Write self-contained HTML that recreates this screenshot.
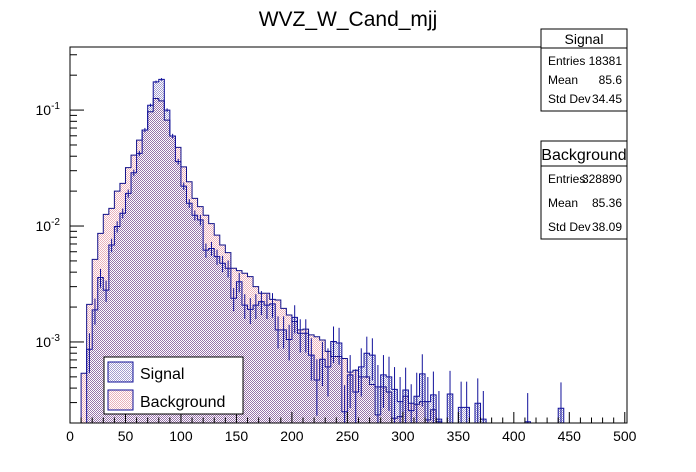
<!DOCTYPE html>
<html><head><meta charset="utf-8"><style>
body{margin:0;background:#fff;}
svg{display:block;font-family:"Liberation Sans",Arial,sans-serif;}
</style></head><body>
<svg id="c" width="696" height="472" viewBox="0 0 696 472">
<defs>
<pattern id="pbg" width="2" height="2" patternUnits="userSpaceOnUse"><rect width="2" height="2" fill="#ffffff"/><rect x="0" y="0" width="1" height="1" fill="rgba(215,110,130,0.55)"/><rect x="1" y="1" width="1" height="1" fill="rgba(215,110,130,0.55)"/></pattern>
<pattern id="psig" width="2" height="2" patternUnits="userSpaceOnUse"><rect x="0" y="0" width="1" height="1" fill="rgba(50,40,150,0.45)"/><rect x="1" y="1" width="1" height="1" fill="rgba(50,40,150,0.45)"/></pattern>
</defs>
<rect width="696" height="472" fill="#fff"/>
<text x="348" y="26" text-anchor="middle" font-size="21">WVZ_W_Cand_mjj</text>
<g id="plot"></g>
</svg>
<script>
const bgVals=[0,0,5.37e-4,2.11e-3,5.16e-3,8.65e-3,1.26e-2,1.42e-2,2.0e-2,2.33e-2,3.19e-2,4.09e-2,5.51e-2,6.73e-2,0.0968,0.126,0.120,0.082,0.0597,0.0477,0.0324,0.0241,0.0173,0.0147,0.0124,0.0105,8.35e-3,6.86e-3,5.89e-3,4.32e-3,4.12e-3,3.91e-3,3.66e-3,3.0e-3,2.63e-3,2.63e-3,2.33e-3,2.30e-3,1.95e-3,1.71e-3,1.5e-3,1.27e-3,1.29e-3,1.15e-3,1.11e-3,1.04e-3,8.3e-4,7.5e-4,7.5e-4,7.2e-4,5.5e-4,5.7e-4,5.0e-4,5.0e-4,4.3e-4,2.35e-4,4.1e-4,3.7e-4,2.2e-4,2.27e-4,3.4e-4,2.96e-4,2.9e-4,3.06e-4,2.13e-4,2.6e-4,2.05e-4,0,0,0,0,0,0,0,0,0,0,0,0,0,0,0,0,0,0,0,0,0,0,0,0,0,0,0,0,0,0,0,0,0];
const sigVals=[0,0,0,8.65e-4,1.89e-3,3.6e-3,2.8e-3,6.86e-3,9.9e-3,1.29e-2,1.91e-2,2.88e-2,4.23e-2,6.73e-2,0.110,0.175,0.184,0.100,0.0597,0.0359,0.0221,0.0157,0.0124,0.0113,6.2e-3,6.4e-3,5.44e-3,4.77e-3,4.32e-3,2.38e-3,3.31e-3,2.08e-3,1.91e-3,2.08e-3,2.23e-3,2.08e-3,2.13e-3,1.27e-3,1.27e-3,1.05e-3,1.63e-3,1.19e-3,1.19e-3,7.7e-4,4.7e-4,7.1e-4,6.1e-4,1.01e-3,9.8e-4,2.5e-4,5.2e-4,3.7e-4,6.1e-4,8.0e-4,7.7e-4,4.1e-4,5.2e-4,5.0e-4,3.9e-4,3.06e-4,3.85e-4,2.56e-4,3.4e-4,5.3e-4,3.06e-4,3.5e-4,2.16e-4,0,3.56e-4,0,2.73e-4,2.73e-4,0,2.96e-4,2.16e-4,0,0,0,0,0,0,0,2.05e-4,0,0,0,0,0,2.68e-4,0,0,0,0,0,0,0,0,0,0,0];
const xTicks=[0,50,100,150,200,250,300,350,400,450,500];
const yDecades=[-1,-2,-3];
const sigEntries=18381;

const NS="http://www.w3.org/2000/svg";
const L=70,R=627,T=47,B=423;
const xmin=0,xmax=502,ymin=2.0e-4,ymax=0.35;
const binW=5;
function X(v){return L+(v-xmin)/(xmax-xmin)*(R-L);}
function Y(v){if(v<=ymin)return B;return B-(Math.log10(v)-Math.log10(ymin))/(Math.log10(ymax)-Math.log10(ymin))*(B-T);}
const g=document.getElementById('plot');
function mk(t,a){const e=document.createElementNS(NS,t);for(const k in a)e.setAttribute(k,a[k]);g.appendChild(e);return e;}

function stepPath(vals){
  let d='M'+X(0)+','+B;
  vals.forEach((v,i)=>{const y=Math.max(T,Y(v));d+=' L'+X(i*binW)+','+y+' L'+X((i+1)*binW)+','+y;});
  d+=' L'+X(vals.length*binW)+','+B+' Z';return d;
}
const bgFill=mk('path',{d:stepPath(bgVals),fill:'url(#pbg)',stroke:'#10108a','stroke-width':1});


const sgFill=mk('path',{d:stepPath(sigVals),fill:'url(#psig)',stroke:'#10109a','stroke-width':1});


sigVals.forEach((v,i)=>{
  if(v<=0)return;
  const n=v*sigEntries*0.45;const e=v/Math.sqrt(n);
  const xc=X((i+0.5)*binW);
  const ln=mk('line',{x1:xc,x2:xc,y1:Math.max(T,Y(v+e)),y2:Y(v-e),stroke:'#10109a','stroke-width':1});
  
  
});
const fr=mk('rect',{x:L,y:T,width:R-L,height:B-T,fill:'none',stroke:'#000','stroke-width':1});


for(let v=0;v<=500;v+=10){
  const major=v%50===0;
  const t=mk('line',{x1:X(v),x2:X(v),y1:B,y2:B-(major?11:5.5),stroke:'#000','stroke-width':1});
  
  
}
xTicks.forEach(v=>{
  const t=mk('text',{x:X(v),y:441,'text-anchor':'middle','font-size':14});
  t.textContent=v;
  
  
});
for(let d=-4;d<=-1;d++){
  for(let m=1;m<=9;m++){
    const v=m*Math.pow(10,d);
    if(v<ymin||v>ymax)continue;
    const t=mk('line',{x1:L,x2:L+(m===1?14:7),y1:Y(v),y2:Y(v),stroke:'#000','stroke-width':1});
    
    
  }
}
yDecades.forEach(d=>{
  const t=mk('text',{x:60,y:Y(Math.pow(10,d))+5,'text-anchor':'end','font-size':14});
  t.innerHTML='10<tspan dy="-6" font-size="10">'+d+'</tspan>';
  
  
});
</script>
<svg width="696" height="472" style="position:absolute;left:0;top:0">
<g font-family="Liberation Sans, Arial, sans-serif">
<g>
<rect x="104" y="357" width="139" height="57" fill="#fff" stroke="#000"/>
<rect x="108" y="362" width="25" height="20" fill="url(#psig)" stroke="#10109a"/>
<text x="140" y="379" font-size="16">Signal</text>
<rect x="108" y="390" width="25" height="20" fill="url(#pbg)" stroke="#10109a"/>
<text x="140" y="407" font-size="16">Background</text>
</g>
<g font-size="12">
<rect x="541" y="29" width="86" height="82" fill="#fff" stroke="#000"/>
<line x1="541" y1="48" x2="627" y2="48" stroke="#000"/>
<text x="584" y="44" text-anchor="middle" font-size="14">Signal</text>
<text x="548" y="65">Entries</text><text x="622" y="65" text-anchor="end">18381</text>
<text x="548" y="84">Mean</text><text x="622" y="84" text-anchor="end">85.6</text>
<text x="548" y="103">Std Dev</text><text x="622" y="103" text-anchor="end">34.45</text>
</g>
<g font-size="12">
<rect x="541" y="141" width="86" height="98" fill="#fff" stroke="#000"/>
<line x1="541" y1="166" x2="627" y2="166" stroke="#000"/>
<text x="584" y="160" text-anchor="middle" font-size="16">Background</text>
<text x="548" y="183">Entries</text><text x="622" y="183" text-anchor="end">328890</text>
<text x="548" y="207">Mean</text><text x="622" y="207" text-anchor="end">85.36</text>
<text x="548" y="231">Std Dev</text><text x="622" y="231" text-anchor="end">38.09</text>
</g>
</g>
</svg>
</body></html>
